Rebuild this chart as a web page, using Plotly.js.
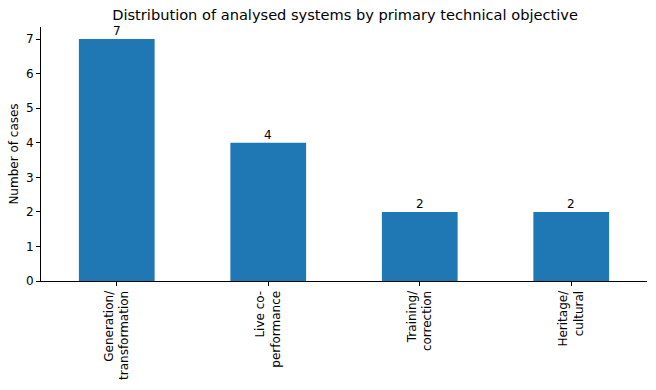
<!DOCTYPE html>
<html><head><meta charset="utf-8">
<script src="https://cdn.plot.ly/plotly-3.0.1.min.js"></script>
<style>body{margin:0;background:#fff}#c{width:656px;height:390px}</style>
</head><body><div id="c"></div>
<script>
const categories = ["Generation/<br>transformation", "Live co-<br>performance", "Training/<br>correction", "Heritage/<br>cultural"];
const counts = [7, 4, 2, 2];
const yTicks = [0, 1, 2, 3, 4, 5, 6, 7];
const xPos = categories.map((_, i) => i);

const font = {family: "DejaVu Sans", size: 12, color: "#000"};
Plotly.newPlot("c", [{
  type: "bar",
  x: xPos,
  y: counts,
  width: 0.5,
  marker: {color: "#1f77b4"},
  hoverinfo: "none"
}], {
  width: 656, height: 390,
  margin: {l: 41, r: 9, t: 27, b: 109},
  paper_bgcolor: "#fff", plot_bgcolor: "#fff",
  font: font,
  showlegend: false,
  title: {text: "Distribution of analysed systems by primary technical objective",
          font: {family: "DejaVu Sans", size: 14.6, color: "#000"}, x: 0.526, xanchor: "center", y: 0.962, yanchor: "middle"},
  annotations: counts.map((v, i) => ({
    x: xPos[i], y: v, xref: "x", yref: "y", text: String(v), showarrow: false,
    yanchor: "bottom", xanchor: "center", yshift: -1, font: font
  })),
  xaxis: {
    range: [-0.5, 3.5], tickmode: "array", tickvals: xPos, ticktext: categories,
    tickangle: -90, ticks: "outside", ticklen: 4, tickcolor: "#000", tickwidth: 1,
    showline: true, linecolor: "#000", linewidth: 1, showgrid: false, zeroline: false,
    tickfont: font
  },
  yaxis: {
    range: [0, 7.35], tickmode: "array", tickvals: yTicks, ticktext: yTicks.map(String),
    ticks: "outside", ticklen: 4, tickcolor: "#000", tickwidth: 1,
    showline: true, linecolor: "#000", linewidth: 1, showgrid: false, zeroline: false,
    tickfont: font,
    title: {text: "Number of cases", font: font, standoff: 4}
  }
}, {staticPlot: true});
</script></body></html>
